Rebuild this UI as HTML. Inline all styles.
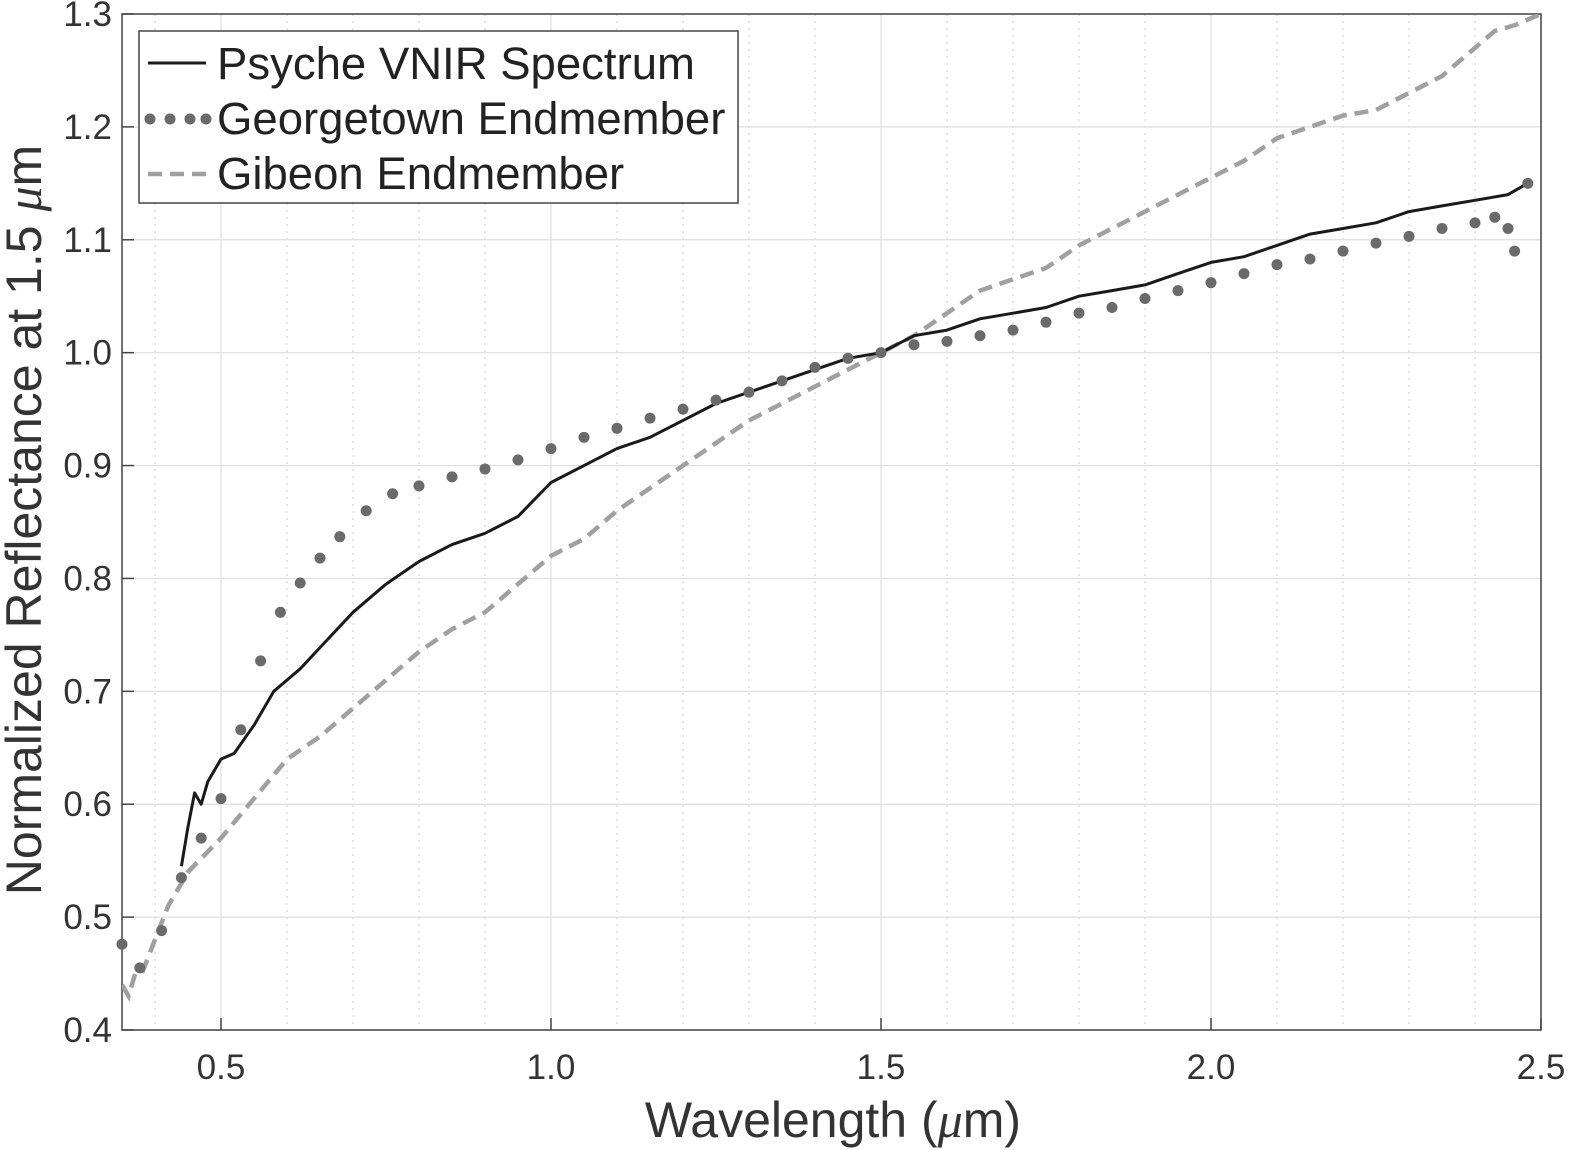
<!DOCTYPE html>
<html><head><meta charset="utf-8"><style>
body{margin:0;background:#fff;}
svg{display:block;font-family:"Liberation Sans",sans-serif;}
</style></head><body>
<svg id="chart" width="1570" height="1150"></svg>
<script>
const psycheX=[0.44,0.45,0.46,0.47,0.48,0.49,0.5,0.52,0.55,0.58,0.62,0.66,0.7,0.75,0.8,0.85,0.9,0.95,1.0,1.05,1.1,1.15,1.2,1.25,1.3,1.35,1.4,1.45,1.5,1.55,1.6,1.65,1.7,1.75,1.8,1.85,1.9,1.95,2.0,2.05,2.1,2.15,2.2,2.25,2.3,2.35,2.4,2.45,2.48];
const psycheY=[0.545,0.58,0.61,0.6,0.62,0.63,0.64,0.645,0.67,0.7,0.72,0.745,0.77,0.795,0.815,0.83,0.84,0.855,0.885,0.9,0.915,0.925,0.94,0.955,0.965,0.975,0.985,0.995,1.0,1.015,1.02,1.03,1.035,1.04,1.05,1.055,1.06,1.07,1.08,1.085,1.095,1.105,1.11,1.115,1.125,1.13,1.135,1.14,1.15];
const georgeX=[0.35,0.377,0.41,0.44,0.47,0.5,0.53,0.56,0.59,0.62,0.65,0.68,0.72,0.76,0.8,0.85,0.9,0.95,1.0,1.05,1.1,1.15,1.2,1.25,1.3,1.35,1.4,1.45,1.5,1.55,1.6,1.65,1.7,1.75,1.8,1.85,1.9,1.95,2.0,2.05,2.1,2.15,2.2,2.25,2.3,2.35,2.4,2.43,2.45,2.46,2.48];
const georgeY=[0.476,0.455,0.488,0.535,0.57,0.605,0.666,0.727,0.77,0.796,0.818,0.837,0.86,0.875,0.882,0.89,0.897,0.905,0.915,0.925,0.933,0.942,0.95,0.958,0.965,0.975,0.987,0.995,1.0,1.007,1.01,1.015,1.02,1.027,1.035,1.04,1.048,1.055,1.062,1.07,1.078,1.083,1.09,1.097,1.103,1.11,1.115,1.12,1.11,1.09,1.15];
const gibeonX=[0.35,0.36,0.37,0.38,0.4,0.42,0.45,0.5,0.55,0.6,0.65,0.7,0.75,0.8,0.85,0.9,0.95,1.0,1.05,1.1,1.15,1.2,1.25,1.3,1.35,1.4,1.45,1.5,1.55,1.6,1.65,1.7,1.75,1.8,1.85,1.9,1.95,2.0,2.05,2.1,2.15,2.2,2.25,2.3,2.35,2.4,2.43,2.46,2.48,2.5];
const gibeonY=[0.44,0.43,0.45,0.45,0.48,0.51,0.54,0.57,0.605,0.64,0.66,0.685,0.71,0.735,0.755,0.77,0.795,0.82,0.835,0.86,0.88,0.9,0.92,0.94,0.955,0.97,0.985,1.0,1.015,1.035,1.055,1.065,1.075,1.095,1.11,1.125,1.14,1.155,1.17,1.19,1.2,1.21,1.215,1.23,1.245,1.27,1.285,1.29,1.295,1.3];
const xTicks=[0.5,1.0,1.5,2.0,2.5];
const yTicks=[0.4,0.5,0.6,0.7,0.8,0.9,1.0,1.1,1.2,1.3];
const xMinor=[0.4,0.6,0.7,0.8,0.9,1.1,1.2,1.3,1.4,1.6,1.7,1.8,1.9,2.1,2.2,2.3,2.4];

const L=122,R=1541,T=14,B=1030,X0=0.35,X1=2.5,Y0=0.4,Y1=1.3;
const sx=v=>L+(v-X0)/(X1-X0)*(R-L);
const sy=v=>B-(v-Y0)/(Y1-Y0)*(B-T);
const svg=document.getElementById('chart');
const NS='http://www.w3.org/2000/svg';
function mk(tag,attrs,parent){const e=document.createElementNS(NS,tag);for(const k in attrs)e.setAttribute(k,attrs[k]);(parent||svg).appendChild(e);return e;}

const grid=mk('g',{});


xMinor.forEach(v=>{mk('line',{x1:sx(v),x2:sx(v),y1:T,y2:B,stroke:'#ccc','stroke-width':1,'stroke-dasharray':'2,5'},grid);});
xTicks.forEach(v=>{mk('line',{x1:sx(v),x2:sx(v),y1:T,y2:B,stroke:'#dedede','stroke-width':1.2},grid);});
yTicks.forEach(v=>{mk('line',{x1:L,x2:R,y1:sy(v),y2:sy(v),stroke:'#dedede','stroke-width':1.2},grid);});

const axes=mk('g',{});


mk('rect',{x:L,y:T,width:R-L,height:B-T,fill:'none',stroke:'#444','stroke-width':1.5},axes);
xTicks.forEach(v=>{
  mk('line',{x1:sx(v),x2:sx(v),y1:B,y2:B-12,stroke:'#444','stroke-width':1.5},axes);
  const t=mk('text',{x:sx(v),y:B+49,'text-anchor':'middle','font-size':35,fill:'#333'},axes);
  t.textContent=v.toFixed(1);
  
  
});
yTicks.forEach(v=>{
  mk('line',{x1:L,x2:L+12,y1:sy(v),y2:sy(v),stroke:'#444','stroke-width':1.5},axes);
  const t=mk('text',{x:L-10,y:sy(v)+12,'text-anchor':'end','font-size':35,fill:'#333'},axes);
  t.textContent=v.toFixed(1);
  
  
});

function path(xs,ys){return xs.map((x,i)=>(i?'L':'M')+sx(x).toFixed(1)+','+sy(ys[i]).toFixed(1)).join(' ');}
const clip=mk('clipPath',{id:'pc'});mk('rect',{x:L,y:T,width:R-L,height:B-T},clip);

const gib=mk('path',{d:path(gibeonX,gibeonY),fill:'none',stroke:'#a0a0a0','stroke-width':4.5,'stroke-dasharray':'14,8','clip-path':'url(#pc)'});


const psy=mk('path',{d:path(psycheX,psycheY),fill:'none',stroke:'#1a1a1a','stroke-width':3,'stroke-linejoin':'round'});


const geo=mk('g',{});


georgeX.forEach((x,i)=>{const c=mk('circle',{cx:sx(x),cy:sy(georgeY[i]),r:5.5,fill:'#6a6a6a'},geo);
  
  });

const lg=mk('g',{});


mk('rect',{x:139,y:31,width:599,height:172,fill:'#fff',stroke:'#444','stroke-width':1.5},lg);
mk('line',{x1:148,x2:206,y1:63,y2:63,stroke:'#1a1a1a','stroke-width':3},lg);
[150,170,190,206].forEach(x=>mk('circle',{cx:x,cy:119,r:5.5,fill:'#6a6a6a'},lg));
mk('line',{x1:148,x2:206,y1:174,y2:174,stroke:'#a0a0a0','stroke-width':4.5,'stroke-dasharray':'14,8'},lg);
[['Psyche VNIR Spectrum',79],['Georgetown Endmember',134],['Gibeon Endmember',189]].forEach(([s,y])=>{
  const t=mk('text',{x:217,y:y,'font-size':45.5,fill:'#222'},lg);t.textContent=s;
  
  
});

const xt=mk('text',{x:833,y:1137,'text-anchor':'middle','font-size':50,fill:'#333'});
xt.innerHTML='Wavelength (<tspan font-style="italic" font-family="Liberation Serif">μ</tspan>m)';


const yt=mk('text',{x:0,y:0,'text-anchor':'middle','font-size':50,fill:'#333',transform:'translate(41,520) rotate(-90)'});
yt.innerHTML='Normalized Reflectance at 1.5 <tspan font-style="italic" font-family="Liberation Serif">μ</tspan>m';


</script>
</body></html>
